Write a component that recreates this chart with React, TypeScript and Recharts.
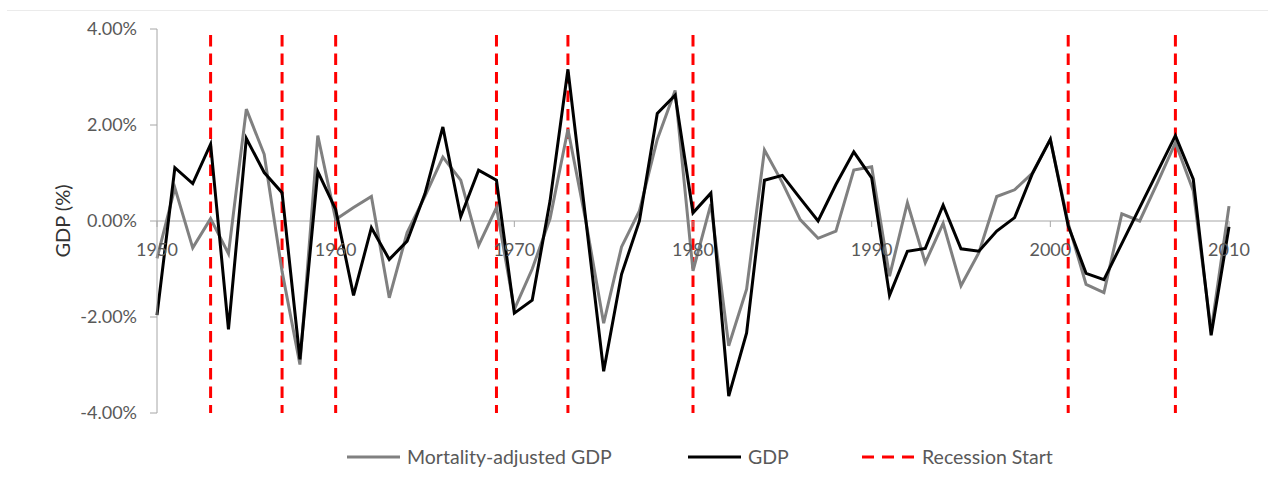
import { LineChart, Line, XAxis, YAxis, ReferenceLine } from "recharts";

const years = [
  1950, 1951, 1952, 1953, 1954, 1955, 1956, 1957, 1958, 1959,
  1960, 1961, 1962, 1963, 1964, 1965, 1966, 1967, 1968, 1969,
  1970, 1971, 1972, 1973, 1974, 1975, 1976, 1977, 1978, 1979,
  1980, 1981, 1982, 1983, 1984, 1985, 1986, 1987, 1988, 1989,
  1990, 1991, 1992, 1993, 1994, 1995, 1996, 1997, 1998, 1999,
  2000, 2001, 2002, 2003, 2004, 2005, 2006, 2007, 2008, 2009,
  2010,
];

const mortalityAdjusted = [
  -0.78, 0.69, -0.56, 0.05, -0.68, 2.33, 1.39, -1.05, -2.99, 1.78,
  0.03, 0.28, 0.51, -1.6, -0.24, 0.52, 1.33, 0.85, -0.51, 0.28,
  -1.84, -1.0, 0.05, 1.91, 0.0, -2.13, -0.54, 0.21, 1.7, 2.72,
  -1.04, 0.35, -2.6, -1.42, 1.48, 0.8, 0.03, -0.36, -0.21, 1.06,
  1.13, -1.15, 0.38, -0.87, -0.05, -1.35, -0.66, 0.51, 0.65, 1.0,
  1.7, -0.05, -1.32, -1.49, 0.15, 0.0, 0.8, 1.63, 0.63, -2.29,
  0.31,
];

const gdp = [
  -1.96, 1.11, 0.78, 1.6, -2.26, 1.72, 1.01, 0.59, -2.88, 1.03,
  0.24, -1.55, -0.14, -0.8, -0.42, 0.57, 1.96, 0.09, 1.06, 0.85,
  -1.92, -1.65, 0.42, 3.16, 0.03, -3.13, -1.11, 0.0, 2.24, 2.62,
  0.17, 0.58, -3.65, -2.33, 0.85, 0.95, 0.47, 0.0, 0.76, 1.44,
  0.9, -1.55, -0.63, -0.57, 0.33, -0.58, -0.63, -0.21, 0.07, 0.99,
  1.7, -0.1, -1.09, -1.22, -0.47, 0.28, 1.03, 1.78, 0.87, -2.38,
  -0.12,
];

const recessionStarts = [1953, 1957, 1960, 1969, 1973, 1980, 2001, 2007];
const yearTicks = [1950, 1960, 1970, 1980, 1990, 2000, 2010];
const gdpTicks = [-4, -2, 0, 2, 4];

const data = years.map((year, i) => ({
  year,
  mortality: mortalityAdjusted[i],
  gdp: gdp[i],
}));

const FONT = "Lato, 'Open Sans', sans-serif";
const AXIS_GREY = "#A6A6A6";
const TEXT_GREY = "#595959";
const ZERO_Y = 221; // plot top 29 + half of 384

function YearTick({ x, payload }: any) {
  return (
    <g>
      <line x1={x} x2={x} y1={ZERO_Y} y2={ZERO_Y + 6} stroke={AXIS_GREY} />
      <text x={x} y={ZERO_Y + 35} textAnchor="middle" fill={TEXT_GREY} fontSize={18} fontFamily={FONT}>
        {payload.value}
      </text>
    </g>
  );
}

function YTitle({ viewBox }: any) {
  const cx = viewBox.x + 62;
  const cy = viewBox.y + viewBox.height / 2;
  return (
    <text x={cx} y={cy} transform={`rotate(-90 ${cx} ${cy})`} textAnchor="middle" dominantBaseline="central" fill="#333333" fontSize={20} fontFamily={FONT}>
      GDP (%)
    </text>
  );
}

function LegendIcon({ color, dashed }: { color: string; dashed?: boolean }) {
  return (
    <svg width={53} height={6} style={{ display: "block" }}>
      <line x1={0} x2={53} y1={3} y2={3} stroke={color} strokeWidth={3} strokeDasharray={dashed ? "12 8" : undefined} />
    </svg>
  );
}

export default function App() {
  const legendItems = [
    { label: "Mortality-adjusted GDP", color: "#808080", left: 347 },
    { label: "GDP", color: "#000000", left: 688 },
    { label: "Recession Start", color: "#FF0000", left: 862, dashed: true },
  ];
  return (
    <div style={{ position: "absolute", left: 0, top: 0, width: 1268, height: 482, background: "#fff", fontFamily: FONT }}>
      <div style={{ position: "absolute", left: 7, right: 0, top: 10, borderTop: "1px solid #EBEBEB" }} />
      <LineChart width={1268} height={482} data={data} margin={{ top: 29, right: 39, left: 0, bottom: 39 }}>
        <XAxis
          dataKey="year"
          type="number"
          domain={[1950, 2010]}
          ticks={yearTicks}
          axisLine={false}
          tickLine={false}
          tick={<YearTick />}
          height={30}
        />
        <YAxis
          type="number"
          domain={[-4, 4]}
          ticks={gdpTicks}
          width={157}
          axisLine={{ stroke: AXIS_GREY }}
          tickLine={{ stroke: AXIS_GREY }}
          tickSize={7}
          tickMargin={13}
          tick={{ fill: TEXT_GREY, fontSize: 18, fontFamily: FONT }}
          tickFormatter={(v: number) => `${v.toFixed(2)}%`}
          label={<YTitle />}
        />
        <ReferenceLine y={0} stroke={AXIS_GREY} strokeWidth={1} />
        {recessionStarts.map((yr) => (
          <ReferenceLine
            key={yr}
            segment={[{ x: yr, y: 3.875 }, { x: yr, y: -4 }]}
            stroke="#FF0000"
            strokeWidth={3}
            strokeDasharray="11.5 7"
          />
        ))}
        <Line type="linear" dataKey="mortality" name="Mortality-adjusted GDP" stroke="#808080" strokeWidth={3} dot={false} isAnimationActive={false} />
        <Line type="linear" dataKey="gdp" name="GDP" stroke="#000000" strokeWidth={3} dot={false} isAnimationActive={false} />
      </LineChart>
      {legendItems.map((item) => (
        <div key={item.label} style={{ position: "absolute", left: item.left, top: 445, display: "flex", alignItems: "center", gap: 7, fontSize: 19.5, color: TEXT_GREY, whiteSpace: "nowrap" }}>
          <LegendIcon color={item.color} dashed={item.dashed} />
          <span>{item.label}</span>
        </div>
      ))}
    </div>
  );
}
